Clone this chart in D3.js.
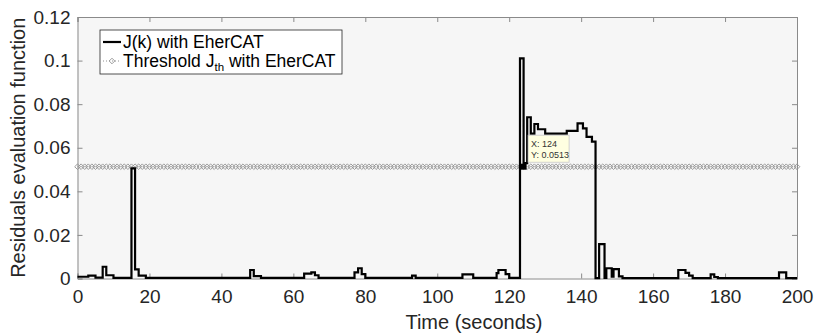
<!DOCTYPE html>
<html>
<head>
<meta charset="utf-8">
<script src="https://cdn.jsdelivr.net/npm/d3@7"></script>
<style>
  body { margin: 0; background: #fff; }
  svg { display: block; font-family: "Liberation Sans", Arial, sans-serif; }
</style>
</head>
<body>
<svg id="chart" width="816" height="336"></svg>
<script>
// J(k) as a step function: value holds from time[i] until time[i+1]
var jTimes = [0, 3, 5, 7, 8, 10, 15, 16, 17, 19, 48, 49, 51, 63, 65, 66, 67, 77, 78, 79, 80,
    93, 94, 107, 110, 116.5, 117, 119, 120, 123, 124, 125, 126, 127, 128, 130, 136, 139, 140.5,
    141.5, 143, 144, 145, 146.5, 147, 148.5, 149, 150.5, 151.5, 167, 169, 170, 171, 176, 177,
    178, 195, 197, 200];
var jValues = [0.0008, 0.0013, 0.0004, 0.0054, 0.0015, 0.0003, 0.0505, 0.0042, 0.0013, 0.0003,
    0.0039, 0.0011, 0.0003, 0.0022, 0.0028, 0.0015, 0.0003, 0.0028, 0.0047, 0.002, 0.0003,
    0.0013, 0.0003, 0.0019, 0.0003, 0.0025, 0.0039, 0.002, 0.0003, 0.101, 0.053, 0.074, 0.0665,
    0.0709, 0.0685, 0.0665, 0.0677, 0.0712, 0.0689, 0.065, 0.0628, 0.0002, 0.0158, 0.0003,
    0.0047, 0.0008, 0.0043, 0.001, 0.0002, 0.0039, 0.0026, 0.0013, 0.0002, 0.0019, 0.0007,
    0.0002, 0.0028, 0.0002, 0.0002];

// threshold, sampled once per second
var thresholdValue = 0.0513;
var sampleStep = 1;
var tipPoint = { x: 124, y: 0.0513 };

var xTicks = [0, 20, 40, 60, 80, 100, 120, 140, 160, 180, 200];
var yTicks = [0, 0.02, 0.04, 0.06, 0.08, 0.1, 0.12];
var yTickLabels = ["0", "0.02", "0.04", "0.06", "0.08", "0.1", "0.12"];

var svg = d3.select("#chart");
var plotLeft = 77.5, plotRight = 797, plotTop = 17, plotBottom = 278.5;

var x = d3.scaleLinear().domain([0, 200]).range([plotLeft, plotRight]);
var y = d3.scaleLinear().domain([0, 0.12]).range([plotBottom, plotTop]);

// plot background
svg.append("rect")
    .attr("x", plotLeft).attr("y", plotTop)
    .attr("width", plotRight - plotLeft).attr("height", plotBottom - plotTop)
    .attr("fill", "#f6f6f6");

// axes (box with inward ticks on all sides)
var axisColor = "#8a8a8a";
var tickLen = 5;
var xAxisB = svg.append("g").attr("transform", "translate(0," + plotBottom + ")")
    .call(d3.axisBottom(x).tickValues(xTicks).tickSize(-tickLen).tickPadding(11));
var xAxisT = svg.append("g").attr("transform", "translate(0," + plotTop + ")")
    .call(d3.axisTop(x).tickValues(xTicks).tickSize(-tickLen).tickFormat(""));
var yAxisL = svg.append("g").attr("transform", "translate(" + plotLeft + ",0)")
    .call(d3.axisLeft(y).tickValues(yTicks).tickSize(-tickLen).tickPadding(7)
        .tickFormat(function(d, i) { return yTickLabels[i]; }));
var yAxisR = svg.append("g").attr("transform", "translate(" + plotRight + ",0)")
    .call(d3.axisRight(y).tickValues(yTicks).tickSize(-tickLen).tickFormat(""));

[xAxisB, xAxisT, yAxisL, yAxisR].forEach(function(g) {
    g.select(".domain").attr("stroke", axisColor).attr("stroke-width", 1);
    g.selectAll(".tick line").attr("stroke", axisColor);
    g.selectAll(".tick text").attr("fill", "#262626").style("font-size", "19px")
        .style("font-family", "Liberation Sans, Arial, sans-serif");
});

// threshold line with diamond markers
var thresholdData = d3.range(0, 200 + sampleStep, sampleStep).map(function(t) {
    return { t: t, v: thresholdValue };
});
var thrColor = "#929292";
svg.append("path")
    .datum(thresholdData)
    .attr("fill", "none")
    .attr("stroke", thrColor)
    .attr("stroke-width", 1)
    .attr("stroke-dasharray", "1,2")
    .attr("d", d3.line().x(function(d) { return x(d.t); }).y(function(d) { return y(d.v); }));

var diamond = d3.symbol().type(d3.symbolDiamond2).size(20);
svg.append("g").selectAll("path")
    .data(thresholdData)
    .enter().append("path")
    .attr("d", diamond)
    .attr("transform", function(d) { return "translate(" + x(d.t) + "," + y(d.v) + ")"; })
    .attr("fill", "none")
    .attr("stroke", thrColor)
    .attr("stroke-width", 0.9);

// J(k) stairs
var jData = jTimes.map(function(t, i) { return { t: t, v: jValues[i] }; });
svg.append("path")
    .datum(jData)
    .attr("fill", "none")
    .attr("stroke", "#000")
    .attr("stroke-width", 2.2)
    .attr("d", d3.line().curve(d3.curveStepAfter)
        .x(function(d) { return x(d.t); })
        .y(function(d) { return y(d.v); }));

// data tip
var tx = x(tipPoint.x), ty = y(tipPoint.y);
svg.append("rect")
    .attr("x", tx - 3).attr("y", ty - 3)
    .attr("width", 6).attr("height", 6)
    .attr("fill", "#000");
var tip = svg.append("g").attr("transform", "translate(" + (tx + 4.5) + "," + (ty - 31.5) + ")");
tip.append("rect")
    .attr("width", 41).attr("height", 27)
    .attr("fill", "#ffffe1")
    .attr("stroke", "#c8c8c8")
    .attr("stroke-width", 0.8);
tip.append("text").attr("x", 3).attr("y", 11.5)
    .attr("font-size", "9px").attr("fill", "#333")
    .text("X: " + tipPoint.x);
tip.append("text").attr("x", 3).attr("y", 23)
    .attr("font-size", "9px").attr("fill", "#333")
    .text("Y: " + tipPoint.y);

// axis labels
svg.append("text")
    .attr("x", 474).attr("y", 329)
    .attr("text-anchor", "middle")
    .attr("font-size", "20px").attr("fill", "#262626")
    .text("Time (seconds)");
svg.append("text")
    .attr("transform", "translate(25," + ((plotTop + plotBottom) / 2) + ") rotate(-90)")
    .attr("text-anchor", "middle")
    .attr("font-size", "20px").attr("fill", "#262626")
    .text("Residuals evaluation function");

// legend
var legend = svg.append("g").attr("transform", "translate(100,30)");
legend.append("rect")
    .attr("width", 242).attr("height", 44)
    .attr("fill", "#fff")
    .attr("stroke", "#262626")
    .attr("stroke-width", 0.8);
legend.append("line")
    .attr("x1", 3).attr("x2", 21).attr("y1", 12).attr("y2", 12)
    .attr("stroke", "#000").attr("stroke-width", 2.2);
legend.append("text")
    .attr("x", 23).attr("y", 18)
    .attr("font-size", "17.5px").attr("fill", "#000")
    .text("J(k) with EherCAT");
legend.append("line")
    .attr("x1", 3).attr("x2", 21).attr("y1", 31).attr("y2", 31)
    .attr("stroke", thrColor).attr("stroke-dasharray", "1,2");
legend.append("path")
    .attr("d", diamond)
    .attr("transform", "translate(12,31)")
    .attr("fill", "none").attr("stroke", thrColor).attr("stroke-width", 0.9);
var t2 = legend.append("text")
    .attr("x", 23).attr("y", 37)
    .attr("font-size", "17.5px").attr("fill", "#000");
t2.append("tspan").text("Threshold J");
t2.append("tspan").attr("font-size", "11.5px").attr("dy", 4).text("th");
t2.append("tspan").attr("dy", -4).text(" with EherCAT");
</script>
</body>
</html>
